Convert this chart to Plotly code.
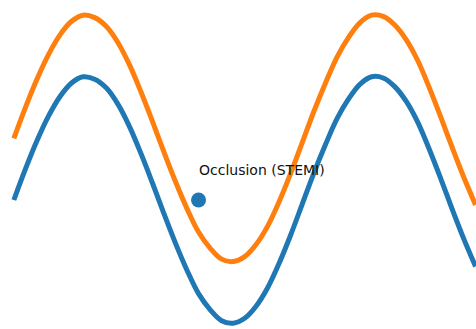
import plotly.graph_objects as go

x_vals = [0.0, 0.25, 0.5, 0.75, 1.0, 1.25, 1.5, 1.75, 2.0, 2.25, 2.5, 2.75, 3.0, 3.25, 3.5, 3.75,
          4.0, 4.25, 4.5, 4.75, 5.0, 5.25, 5.5, 5.75, 6.0, 6.25, 6.5, 6.75, 7.0, 7.25, 7.5, 7.75,
          8.0, 8.25, 8.5, 8.75, 9.0, 9.25, 9.5, 9.75, 10.0]
blue_vals = [0.00, 0.25, 0.48, 0.68, 0.84, 0.95, 1.00, 0.98, 0.91, 0.78, 0.60, 0.38, 0.14, -0.11,
             -0.35, -0.57, -0.76, -0.89, -0.98, -1.00, -0.96, -0.86, -0.71, -0.51, -0.28, -0.03,
             0.22, 0.45, 0.66, 0.82, 0.94, 1.00, 0.99, 0.92, 0.80, 0.63, 0.41, 0.17, -0.08, -0.32, -0.54]
orange_vals = [0.50, 0.75, 0.98, 1.18, 1.34, 1.45, 1.50, 1.48, 1.41, 1.28, 1.10, 0.88, 0.64, 0.39,
               0.15, -0.07, -0.26, -0.39, -0.48, -0.50, -0.46, -0.36, -0.21, -0.01, 0.22, 0.47,
               0.72, 0.95, 1.16, 1.32, 1.44, 1.50, 1.49, 1.42, 1.30, 1.13, 0.91, 0.67, 0.42, 0.18, -0.04]
point_x = [4.0]
point_y = [0.0]
label_text = "Occlusion (STEMI)"
label_x = 4.0
label_y = 0.16

fig = go.Figure()
fig.add_trace(go.Scatter(x=x_vals, y=blue_vals, mode="lines", line=dict(color="#1f77b4", width=5, shape="spline"), hoverinfo="skip"))
fig.add_trace(go.Scatter(x=x_vals, y=orange_vals, mode="lines", line=dict(color="#ff7f0e", width=5, shape="spline"), hoverinfo="skip"))
fig.add_trace(go.Scatter(x=point_x, y=point_y, mode="markers", marker=dict(color="#1f77b4", size=15), hoverinfo="skip"))
fig.add_annotation(x=label_x, y=label_y, text=label_text, showarrow=False, xanchor="left", yanchor="bottom",
                   xshift=-2, font=dict(family="DejaVu Sans", size=14, color="#111111"))

fig.update_layout(
    width=476, height=329, margin=dict(l=0, r=0, t=0, b=0),
    paper_bgcolor="white", plot_bgcolor="white", showlegend=False,
    xaxis=dict(range=[-0.3, 10.01], visible=False),
    yaxis=dict(range=[-1.047, 1.623], visible=False),
)
fig.write_html("out.html", config={"displayModeBar": False},
               post_script="document.body.style.margin='0';document.body.style.overflow='hidden';")
